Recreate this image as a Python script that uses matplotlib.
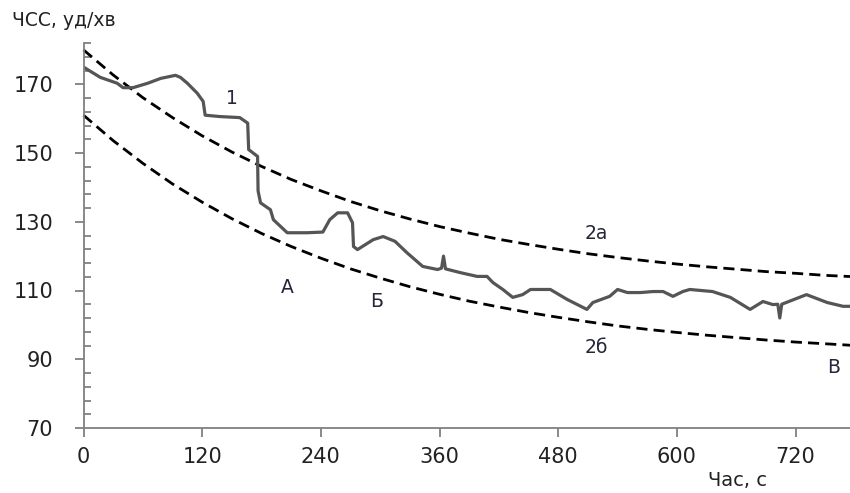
import numpy as np
import matplotlib
matplotlib.use("Agg")
import matplotlib.pyplot as plt
from matplotlib.ticker import FixedLocator

plt.rcParams['font.family'] = ['DejaVu Sans']

# Heart rate record (curve 1): time, s -> beats per minute
hr_time = [0, 17, 34, 40, 50, 65, 78, 93, 98, 105, 115, 121, 123, 138, 158, 163,
           166, 167, 176, 176.5, 179, 189, 192, 206, 226, 242, 249, 257, 267,
           272, 273, 277, 293, 303, 315, 327, 343, 358, 362, 364, 366, 381,
           398, 408, 414, 424, 434, 444, 452, 472, 489, 509, 515, 532, 540,
           550, 563, 576, 586, 596, 606, 613, 636, 654, 674, 687, 697, 702,
           704, 706, 731, 752, 768, 775]
hr_value = [175, 172, 170.3, 169, 169, 170.3, 171.7, 172.6, 172, 170.3, 167.4,
            165, 161, 160.6, 160.3, 159.3, 158.7, 151, 149, 139, 135.5, 133.5,
            130.6, 126.8, 126.8, 127, 130.6, 132.6, 132.6, 129.7, 122.8, 121.9,
            124.8, 125.7, 124.3, 121, 117, 116.1, 116.5, 120, 116.3, 115.2,
            114.1, 114.1, 112.3, 110.3, 108, 108.8, 110.3, 110.3, 107.4, 104.5,
            106.5, 108.3, 110.3, 109.4, 109.4, 109.7, 109.7, 108.3, 109.7,
            110.3, 109.7, 108, 104.5, 106.8, 105.9, 106, 102, 106, 108.8,
            106.5, 105.4, 105.4]

# Boundary curves 2а (upper) and 2б (lower)
bound_time = list(range(0, 781, 30))
upper_2a = [180.0, 172.7, 166.1, 160.3, 155.0, 150.3, 146.1, 142.3, 139.0,
            135.9, 133.2, 130.8, 128.6, 126.7, 124.9, 123.4, 122.0, 120.7,
            119.6, 118.6, 117.7, 116.9, 116.2, 115.5, 115.0, 114.4, 114.0]
lower_2b = [161.0, 153.6, 147.0, 141.0, 135.7, 130.9, 126.6, 122.8, 119.4,
            116.3, 113.6, 111.1, 108.9, 106.9, 105.2, 103.6, 102.2, 100.9,
            99.7, 98.7, 97.8, 97.0, 96.3, 95.6, 95.0, 94.5, 94.0]

x_ticks = [0, 120, 240, 360, 480, 600, 720]
y_ticks = [70, 90, 110, 130, 150, 170]

# Curve labels: (text, time, value)
curve_labels = [("1", 150, 166), ("2а", 519, 126.7), ("2б", 519, 93.3),
                ("А", 206, 111), ("Б", 296, 106.7), ("В", 758, 87.7)]

fig = plt.figure(figsize=(8.5, 4.93), dpi=100)
ax = fig.add_axes([83.5 / 850, 1 - 428 / 493, 1 - 83.5 / 850, (428 - 43) / 493])
ax.set_xlim(0, 775)
ax.set_ylim(70, 182)

dash = (4, 2.2)
ax.plot(bound_time, upper_2a, color="black", lw=2.0, dashes=dash, clip_on=False)
ax.plot(bound_time, lower_2b, color="black", lw=2.0, dashes=dash, clip_on=False)
ax.plot(hr_time, hr_value, color="#555555", lw=2.3, solid_joinstyle="round")

text_color = "#26263a"
for txt, t, v in curve_labels:
    ax.text(t, v, txt, ha="center", va="center", fontsize=13.5, color=text_color)

axis_gray = "#808080"
for side in ("top", "right"):
    ax.spines[side].set_visible(False)
for side in ("left", "bottom"):
    ax.spines[side].set_color(axis_gray)
    ax.spines[side].set_linewidth(1.3)

ax.xaxis.set_major_locator(FixedLocator(x_ticks))
ax.yaxis.set_major_locator(FixedLocator(y_ticks))
ax.yaxis.set_minor_locator(FixedLocator(list(np.arange(70, 183, 4))))
ax.tick_params(axis="both", which="major", direction="out", length=6.5,
               width=1.3, color=axis_gray, labelsize=15, labelcolor="#222222")
ax.tick_params(axis="y", which="major", pad=15.5)
ax.tick_params(axis="x", which="major", pad=7)
ax.tick_params(axis="y", which="minor", direction="in", length=5,
               width=1.3, color=axis_gray)

fig.text(12 / 850, 1 - 20 / 493, "ЧСС, уд/хв", ha="left", va="center",
         fontsize=13.5, color="#222222")
fig.text(738 / 850, 1 - 480 / 493, "Час, с", ha="center", va="center",
         fontsize=14, color="#222222")

fig.savefig("out.png", dpi=100)
